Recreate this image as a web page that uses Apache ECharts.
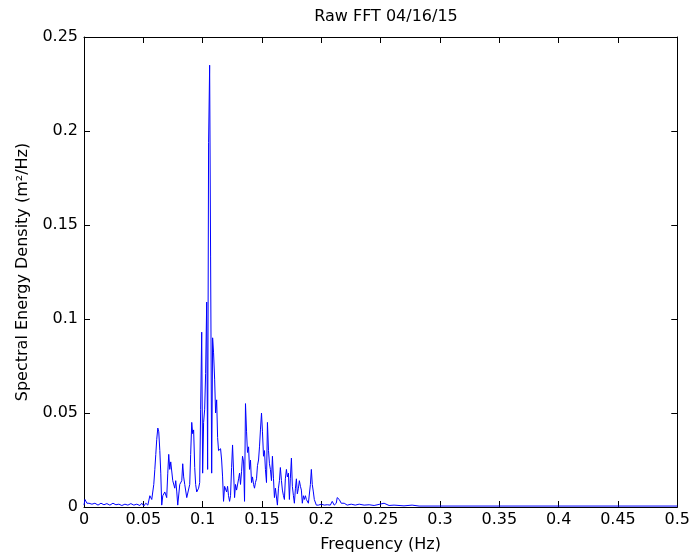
<!DOCTYPE html>
<html>
<head>
<meta charset="utf-8">
<script src="https://cdn.jsdelivr.net/npm/echarts@6/dist/echarts.min.js"></script>
<style>html,body{margin:0;padding:0;background:#fff;}#c{width:693px;height:560px;}</style>
</head>
<body>
<div id="c"></div>
<script>
var titleText = 'Raw FFT 04/16/15';
var xName = 'Frequency (Hz)';
var yName = 'Spectral Energy Density (m\u00B2/Hz)';
var xTicks = [0, 0.05, 0.1, 0.15, 0.2, 0.25, 0.3, 0.35, 0.4, 0.45, 0.5];
var yTicks = [0, 0.05, 0.1, 0.15, 0.2, 0.25];

var freqs = [
0, 0.0008, 0.0017, 0.0025, 0.0042, 0.0067, 0.0092, 0.0118, 0.0143, 0.0168,
0.0193, 0.0218, 0.0244, 0.0269, 0.0294, 0.0319, 0.0345, 0.0370, 0.0395, 0.0420,
0.0445, 0.0471, 0.0487, 0.0504, 0.0521, 0.0538, 0.0555, 0.0571, 0.0588, 0.0597,
0.0605, 0.0613, 0.0622, 0.0630, 0.0639, 0.0647, 0.0655, 0.0664, 0.0681, 0.0697,
0.0706, 0.0714, 0.0723, 0.0731, 0.0739, 0.0748, 0.0765, 0.0773, 0.0782, 0.0790,
0.0807, 0.0824, 0.0832, 0.0840, 0.0849, 0.0866, 0.0882, 0.0891, 0.0899, 0.0908,
0.0916, 0.0924, 0.0933, 0.0941, 0.0950, 0.0958, 0.0966, 0.0975, 0.0983, 0.0992,
0.1000, 0.1008, 0.1017, 0.1025, 0.1034, 0.1042, 0.1050, 0.1059, 0.1067, 0.1076,
0.1084, 0.1092, 0.1101, 0.1109, 0.1118, 0.1126, 0.1134, 0.1143, 0.1151, 0.1160,
0.1168, 0.1176, 0.1185, 0.1193, 0.1202, 0.1210, 0.1218, 0.1227, 0.1235, 0.1244,
0.1252, 0.1261, 0.1269, 0.1277, 0.1286, 0.1294, 0.1303, 0.1311, 0.1319, 0.1328,
0.1336, 0.1345, 0.1353, 0.1361, 0.1370, 0.1378, 0.1387, 0.1395, 0.1403, 0.1412,
0.1420, 0.1429, 0.1437, 0.1445, 0.1454, 0.1462, 0.1471, 0.1479, 0.1487, 0.1496,
0.1504, 0.1513, 0.1521, 0.1529, 0.1538, 0.1546, 0.1555, 0.1563, 0.1571, 0.1580,
0.1588, 0.1597, 0.1605, 0.1613, 0.1622, 0.1630, 0.1639, 0.1647, 0.1655, 0.1664,
0.1672, 0.1681, 0.1689, 0.1697, 0.1706, 0.1714, 0.1723, 0.1731, 0.1739, 0.1748,
0.1756, 0.1765, 0.1773, 0.1782, 0.1790, 0.1798, 0.1807, 0.1815, 0.1824, 0.1832,
0.1840, 0.1849, 0.1857, 0.1866, 0.1874, 0.1882, 0.1891, 0.1899, 0.1908, 0.1916,
0.1924, 0.1933, 0.1941, 0.1950, 0.1958, 0.1975, 0.2000, 0.2025, 0.2050, 0.2076,
0.2092, 0.2109, 0.2126, 0.2134, 0.2151, 0.2168, 0.2193, 0.2218, 0.2252, 0.2286,
0.2319, 0.2361, 0.2403, 0.2445, 0.2529, 0.2571, 0.2613, 0.2697, 0.2765, 0.2824,
0.3000, 0.3500, 0.4000, 0.4500, 0.5000
];

var energy = [
0.001, 0.004, 0.004, 0.002, 0.002, 0.0015, 0.002, 0.001, 0.002, 0.0012,
0.0018, 0.001, 0.002, 0.0012, 0.0015, 0.0008, 0.0015, 0.001, 0.0018, 0.001,
0.0015, 0.0008, 0.002, 0.0005, 0.002, 0.001, 0.006, 0.004, 0.012, 0.020,
0.028, 0.036, 0.042, 0.040, 0.030, 0.018, 0.001, 0.006, 0.008, 0.005,
0.018, 0.028, 0.020, 0.024, 0.023, 0.014, 0.010, 0.014, 0.008, 0.001,
0.012, 0.014, 0.023, 0.016, 0.012, 0.005, 0.006, 0.012, 0.028, 0.045,
0.039, 0.041, 0.021, 0.012, 0.008, 0.009, 0.010, 0.013, 0.052, 0.093,
0.018, 0.045, 0.052, 0.071, 0.109, 0.020, 0.194, 0.235, 0.133, 0.018,
0.090, 0.082, 0.068, 0.050, 0.057, 0.037, 0.030, 0.029, 0.031, 0.025,
0.016, 0.003, 0.011, 0.012, 0.008, 0.011, 0.006, 0.003, 0.006, 0.021,
0.033, 0.034, 0.005, 0.012, 0.009, 0.010, 0.015, 0.018, 0.012, 0.019,
0.027, 0.024, 0.003, 0.055, 0.040, 0.029, 0.032, 0.020, 0.025, 0.013,
0.016, 0.012, 0.010, 0.013, 0.015, 0.022, 0.025, 0.032, 0.041, 0.050,
0.040, 0.027, 0.030, 0.020, 0.013, 0.045, 0.030, 0.023, 0.020, 0.014,
0.027, 0.015, 0.005, 0.010, 0.009, 0.001, 0.010, 0.014, 0.021, 0.014,
0.009, 0.006, 0.004, 0.015, 0.020, 0.016, 0.018, 0.004, 0.015, 0.026,
0.011, 0.006, 0.002, 0.010, 0.015, 0.007, 0.010, 0.014, 0.011, 0.009,
0.002, 0.006, 0.004, 0.006, 0.004, 0.005, 0.002, 0.001, 0.012, 0.020,
0.012, 0.008, 0.004, 0.003, 0.001, 0.001, 0.0015, 0.001, 0.0012, 0.001,
0.003, 0.001, 0.002, 0.005, 0.004, 0.002, 0.002, 0.001, 0.0015, 0.001,
0.0015, 0.001, 0.0012, 0.0008, 0.002, 0.0008, 0.001, 0.0006, 0.001, 0.0005,
0.0005, 0.0005, 0.0005, 0.0005, 0.0005
];

var seriesData = freqs.map(function (f, i) { return [f, energy[i]]; });

var FONT = 'DejaVu Sans';
var FS = 16;
var chart = echarts.init(document.getElementById('c'), null, {renderer: 'canvas'});

function tickFmt(v) {
  return String(Math.round(v * 1000) / 1000);
}
function axLine() { return {show: true, onZero: false, lineStyle: {color: '#000', width: 1}}; }
function axTick() { return {show: true, inside: true, length: 6, lineStyle: {color: '#000', width: 1}}; }

chart.setOption({
  animation: false,
  title: {
    text: titleText,
    left: 381, top: 4, textAlign: 'center',
    textStyle: {fontFamily: FONT, fontSize: FS, fontWeight: 'normal', color: '#000'}
  },
  grid: {left: 84, right: 14, top: 37, bottom: 53},
  xAxis: [{
    type: 'value', min: xTicks[0], max: xTicks[xTicks.length - 1], interval: 0.05,
    position: 'bottom',
    name: xName, nameLocation: 'middle', nameGap: 30,
    nameTextStyle: {fontFamily: FONT, fontSize: FS, color: '#000'},
    axisLine: axLine(), axisTick: axTick(),
    axisLabel: {fontFamily: FONT, fontSize: FS, color: '#000', margin: 5, formatter: tickFmt},
    splitLine: {show: false}
  }, {
    type: 'value', min: xTicks[0], max: xTicks[xTicks.length - 1], interval: 0.05,
    position: 'top',
    axisLine: axLine(), axisTick: axTick(),
    axisLabel: {show: false}, splitLine: {show: false}
  }],
  yAxis: [{
    type: 'value', min: yTicks[0], max: yTicks[yTicks.length - 1], interval: 0.05,
    position: 'left',
    name: yName, nameLocation: 'middle', nameGap: 53,
    nameTextStyle: {fontFamily: FONT, fontSize: FS, color: '#000'},
    axisLine: axLine(), axisTick: axTick(),
    axisLabel: {fontFamily: FONT, fontSize: FS, color: '#000', margin: 6, formatter: tickFmt},
    splitLine: {show: false}
  }, {
    type: 'value', min: yTicks[0], max: yTicks[yTicks.length - 1], interval: 0.05,
    position: 'right',
    axisLine: axLine(), axisTick: axTick(),
    axisLabel: {show: false}, splitLine: {show: false}
  }],
  series: [{
    type: 'line',
    data: seriesData,
    xAxisIndex: 0, yAxisIndex: 0,
    showSymbol: false,
    lineStyle: {color: '#0000ff', width: 1},
    itemStyle: {color: '#0000ff'}
  }, {
    type: 'line', data: [], xAxisIndex: 1, yAxisIndex: 1
  }]
});
</script>
</body>
</html>
